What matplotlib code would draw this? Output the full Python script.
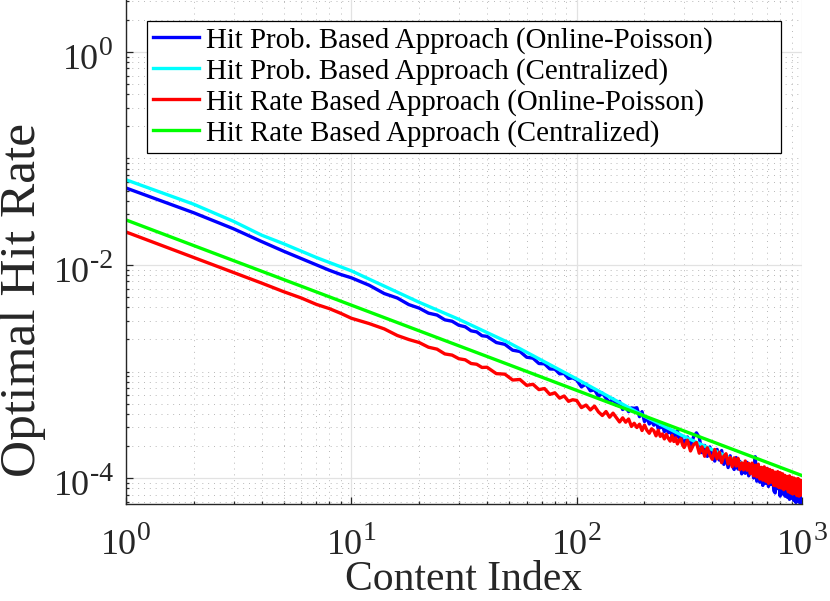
"""
Optimal hit rate per content index, online-Poisson vs centralized, for the
hit-probability and hit-rate based caching approaches (log-log).

    python3 plot.py   ->  out.png
"""

import numpy as np
import matplotlib
matplotlib.use("Agg")
import matplotlib.pyplot as plt
import matplotlib.transforms as mtransforms
from matplotlib.ticker import FixedLocator, NullFormatter


# ---- data (log10 of the hit rate) ------------------------------------------
# content indices used for the two online (noisy) curves
idx = (list(range(1, 11)) + list(range(12, 40, 2)) + list(range(40, 100, 4))
       + list(range(100, 300, 5)) + list(range(300, 600, 10))
       + list(range(600, 1001, 10)))

blue_log10 = (  # Hit Prob. Based Approach (Online-Poisson)
    [-1.277, -1.510, -1.660, -1.780, -1.870, -1.940, -2.000, -2.050, -2.090, -2.120]
    + [-2.190, -2.268, -2.310, -2.372, -2.405, -2.452, -2.470, -2.515, -2.528,
       -2.566, -2.580, -2.618, -2.628, -2.664]
    + [-2.670, -2.728, -2.745, -2.800, -2.812, -2.866, -2.875, -2.925, -2.928,
       -2.976, -2.978, -3.022, -3.018, -3.066, -3.060]
    + [-3.080, -3.144, -3.118, -3.181, -3.172, -3.233, -3.203, -3.251, -3.290,
       -3.257, -3.315, -3.281, -3.357, -3.332, -3.377, -3.342, -3.346, -3.340,
       -3.424, -3.377, -3.470, -3.432, -3.493, -3.464, -3.504, -3.465, -3.536,
       -3.526, -3.505, -3.565, -3.515, -3.575, -3.553, -3.602, -3.560, -3.619,
       -3.558, -3.626, -3.604, -3.652]
    + [-3.670, -3.615, -3.709, -3.614, -3.576, -3.619, -3.762, -3.694, -3.797,
       -3.708, -3.789, -3.841, -3.731, -3.832, -3.742, -3.872, -3.803, -3.902,
       -3.791, -3.881, -3.920, -3.808, -3.916, -3.843, -3.961, -3.868, -3.956,
       -3.853, -3.980, -3.908]
    + [-3.880, -4.000, -3.800, -4.030, -3.900, -4.040, -3.920, -4.070, -3.930,
       -4.050, -3.910, -4.080, -3.950, -4.060, -3.960, -4.120, -4.140, -3.970,
       -4.100, -3.990, -4.170, -4.000, -4.150, -4.020, -4.170, -4.030, -4.180,
       -4.030, -4.200, -4.050, -4.190, -4.050, -4.210, -4.070, -4.230, -4.060,
       -4.220, -4.080, -4.250, -4.270, -4.150]
)

red_log10 = (  # Hit Rate Based Approach (Online-Poisson)
    [-1.690, -1.930, -2.070, -2.170, -2.250, -2.310, -2.370, -2.410, -2.455, -2.500]
    + [-2.550, -2.600, -2.662, -2.700, -2.728, -2.772, -2.790, -2.835, -2.846,
       -2.880, -2.890, -2.925, -2.932, -2.962]
    + [-2.960, -3.020, -3.025, -3.080, -3.075, -3.130, -3.120, -3.170, -3.160,
       -3.215, -3.200, -3.250, -3.230, -3.280, -3.265]
    + [-3.272, -3.339, -3.315, -3.361, -3.325, -3.380, -3.413, -3.376, -3.429,
       -3.391, -3.433, -3.474, -3.435, -3.476, -3.446, -3.516, -3.486, -3.526,
       -3.495, -3.554, -3.503, -3.552, -3.580, -3.538, -3.556, -3.604, -3.552,
       -3.609, -3.586, -3.633, -3.590, -3.627, -3.654, -3.600, -3.657, -3.623,
       -3.680, -3.646, -3.632, -3.688]
    + [-3.714, -3.645, -3.746, -3.687, -3.667, -3.767, -3.707, -3.796, -3.716,
       -3.785, -3.824, -3.732, -3.820, -3.758, -3.856, -3.794, -3.772, -3.869,
       -3.807, -3.894, -3.811, -3.888, -3.815, -3.921, -3.858, -3.924, -3.840,
       -3.927, -3.862, -3.959]
    + [-3.860, -3.980, -3.880, -3.990, -3.870, -4.010, -3.900, -4.020, -3.895,
       -4.030, -3.910, -4.050, -3.920, -4.040, -3.930, -4.070, -3.945, -4.075,
       -3.940, -4.090, -3.950, -4.095, -3.960, -4.110, -3.975, -4.100, -3.985,
       -4.130, -3.980, -4.140, -3.995, -4.150, -4.000, -4.145, -4.010, -4.165,
       -4.005, -4.170, -4.020, -4.160, -4.030]
)

# centralized curves are smooth
cyan_idx = [1, 2, 3, 4, 5, 7, 10, 20, 30, 50, 100, 200, 300, 500, 700, 1000]
cyan_log10 = [-1.200, -1.430, -1.590, -1.720, -1.800, -1.930, -2.055, -2.350,
              -2.510, -2.730, -3.070, -3.420, -3.610, -3.830, -3.960, -4.100]

green_idx = [1, 2, 5, 10, 20, 50, 100, 200, 500, 1000]
green_log10 = [-1.577, -1.818, -2.136, -2.377, -2.618, -2.936, -3.177, -3.418,
               -3.736, -3.977]

labels = [
    "Hit Prob. Based Approach (Online-Poisson)",
    "Hit Prob. Based Approach (Centralized)",
    "Hit Rate Based Approach (Online-Poisson)",
    "Hit Rate Based Approach (Centralized)",
]

x_decades = [0, 1, 2, 3]
y_decades = [-4, -2, 0]

# ---- style -----------------------------------------------------------------
BLUE, CYAN, RED, GREEN = "#0000ff", "#00ffff", "#ff0000", "#00ff00"
AX_C = "#262626"
SERIF = "Liberation Serif"
BASE_FS, EXP_FS = 26, 20
RAISE = 14  # px, exponent baseline above the "10" baseline

plt.rcParams.update({"font.family": SERIF})


def _shifted(fig, trans, dx, dy):
    return mtransforms.offset_copy(trans, fig=fig, x=dx, y=dy, units="dots")


def _decade_labels(fig, ax):
    """MATLAB-style 10^n tick labels: '10' with a raised, smaller exponent."""
    r = fig.canvas.get_renderer()
    xt = mtransforms.blended_transform_factory(ax.transData, ax.transAxes)
    yt = mtransforms.blended_transform_factory(ax.transAxes, ax.transData)
    kw = dict(color=AX_C, va="baseline", ha="left")

    for e in x_decades:
        b = ax.text(10.0 ** e, 0, "10", fontsize=BASE_FS, **kw)
        s = ax.text(10.0 ** e, 0, str(e), fontsize=EXP_FS, **kw)
        wb = b.get_window_extent(r).width
        ws = s.get_window_extent(r).width
        x0 = -(wb + ws) / 2
        b.set_transform(_shifted(fig, xt, x0, -50))
        s.set_transform(_shifted(fig, xt, x0 + wb, -50 + RAISE))

    for e in y_decades:
        b = ax.text(0, 10.0 ** e, "10", fontsize=BASE_FS, **kw)
        s = ax.text(0, 10.0 ** e, str(e), fontsize=EXP_FS, **kw)
        wb = b.get_window_extent(r).width
        ws = s.get_window_extent(r).width
        x1 = -13 - ws
        b.set_transform(_shifted(fig, yt, x1 - wb, -17))
        s.set_transform(_shifted(fig, yt, x1, -17 + RAISE))


def build_figure():
    fig = plt.figure(figsize=(8.3, 6.01), dpi=100)
    ax = fig.add_axes([126 / 830, 1 - 504 / 601, 676 / 830, 504 / 601])

    lw = 2.4
    ax.plot(idx, 10.0 ** np.array(blue_log10), color=BLUE, lw=lw, label=labels[0])
    ax.plot(cyan_idx, 10.0 ** np.array(cyan_log10), color=CYAN, lw=lw,
            label=labels[1])
    ax.plot(idx, 10.0 ** np.array(red_log10), color=RED, lw=lw, label=labels[2])
    ax.plot(green_idx, 10.0 ** np.array(green_log10), color=GREEN, lw=lw,
            label=labels[3])

    ax.set_xscale("log")
    ax.set_yscale("log")
    ax.set_xlim(1, 1000)
    ax.set_ylim(10 ** -4.244, 10 ** 0.488)

    # ticks: decades + minor ticks, MATLAB-ish (inside, left/bottom only)
    ax.xaxis.set_major_locator(FixedLocator([10.0 ** e for e in x_decades]))
    ax.xaxis.set_minor_locator(FixedLocator(
        [k * 10 ** e for e in range(0, 3) for k in range(2, 10)]))
    ax.yaxis.set_major_locator(FixedLocator([10.0 ** e for e in y_decades]))
    ax.yaxis.set_minor_locator(FixedLocator(
        [k * 10.0 ** e for e in range(-5, 1) for k in range(1, 10)
         if not (k == 1 and e % 2 == 0)]))
    for axis in (ax.xaxis, ax.yaxis):
        axis.set_major_formatter(NullFormatter())
        axis.set_minor_formatter(NullFormatter())

    ax.tick_params(which="both", direction="in", colors=AX_C, top=False,
                   right=False, width=0.9)
    ax.tick_params(which="major", length=5)
    ax.tick_params(which="minor", length=2.5)

    ax.grid(True, which="major", color="#e2e2e2", lw=0.9, ls="-")
    ax.grid(True, which="minor", color="#b8b8b8", lw=0.7, ls=(0, (1, 5)))
    ax.set_axisbelow(True)

    for side in ("top", "right"):
        ax.spines[side].set_visible(False)
    for side in ("left", "bottom"):
        ax.spines[side].set_color(AX_C)
        ax.spines[side].set_linewidth(1.0)

    ax.set_xlabel("Content Index", fontsize=30, color=AX_C, va="baseline")
    ax.xaxis.set_label_coords(0.5, -0.1716)
    ax.set_ylabel("Optimal Hit Rate", fontsize=37, color=AX_C, va="center")
    ax.yaxis.set_label_coords(-0.152, 0.405)

    leg = ax.legend(loc="upper left", bbox_to_anchor=(0.031, 0.704, 0.938, 0.254),
                    mode="expand", borderaxespad=0, fontsize=20.8,
                    handlelength=1.6, handletextpad=0.25, labelspacing=0.14,
                    borderpad=0.2, fancybox=False, framealpha=1,
                    edgecolor="black")
    leg.get_frame().set_linewidth(0.9)

    _decade_labels(fig, ax)
    return fig


def main():
    fig = build_figure()
    fig.savefig("out.png", dpi=100)


if __name__ == "__main__":
    main()
